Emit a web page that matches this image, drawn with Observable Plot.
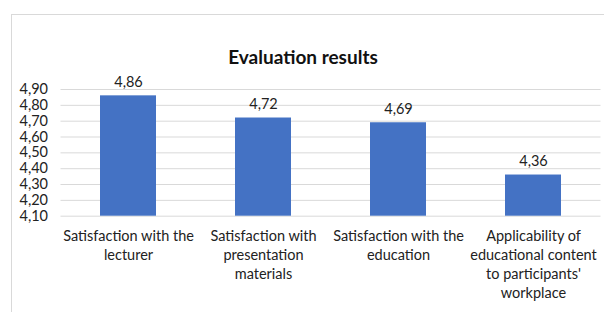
<!DOCTYPE html>
<html>
<head>
<meta charset="utf-8">
<script src="https://cdn.jsdelivr.net/npm/d3@7"></script>
<script src="https://cdn.jsdelivr.net/npm/@observablehq/plot@0.6"></script>
<style>
  html, body { margin: 0; padding: 0; background: #fff; }
  #wrap { position: relative; width: 604px; height: 312px; overflow: hidden; }
  #frame { position: absolute; left: 11px; top: 14px; width: 700px; height: 400px; border: 1px solid #d9d9d9; box-sizing: border-box; }
  #chart { position: absolute; left: 0; top: 0; }
</style>
</head>
<body>
<div id="wrap"><div id="frame"></div><div id="chart"></div></div>
<script>
const title = "Evaluation results";
const categories = [
  "Satisfaction with the lecturer",
  "Satisfaction with presentation materials",
  "Satisfaction with the education",
  "Applicability of educational content to participants' workplace"
];
const tickLabels = [
  "Satisfaction with the\nlecturer",
  "Satisfaction with\npresentation\nmaterials",
  "Satisfaction with the\neducation",
  "Applicability of\neducational content\nto participants'\nworkplace"
];
const values = [4.86, 4.72, 4.69, 4.36];
const yTicks = [4.1, 4.2, 4.3, 4.4, 4.5, 4.6, 4.7, 4.8, 4.9];

const data = categories.map((c, i) => ({category: c, value: values[i]}));
const comma = (v, d) => v.toFixed(d).replace(".", ",");
const font = "Lato, 'Open Sans', sans-serif";
const fs = 14.5;

const chart = Plot.plot({
  width: 604,
  height: 312,
  marginTop: 89,
  marginBottom: 96.3,
  marginLeft: 60.5,
  marginRight: 3.5,
  style: {fontFamily: font, fontSize: fs + "px", color: "#222", background: "transparent"},
  x: {domain: categories, paddingInner: 0.585, paddingOuter: 0.2925, align: 0.5},
  y: {domain: [4.1, 4.9]},
  marks: [
    Plot.gridY(yTicks, {stroke: "#d9d9d9", strokeOpacity: 1}),
    Plot.barY(data, {x: "category", y1: 4.1, y2: "value", fill: "#4472C4"}),
    Plot.text(data, {x: "category", y: "value", text: d => comma(d.value, 2), lineAnchor: "bottom", dy: -9, fontSize: fs, fill: "#222"}),
    Plot.axisY(yTicks, {tickSize: 0, tickPadding: 13, tickFormat: d => comma(d, 2), fontSize: fs, fill: "#222", label: null}),
    Plot.axisX({tickSize: 0, tickPadding: 11, tickFormat: (d) => tickLabels[categories.indexOf(d)], lineHeight: 1.31, fontSize: fs, fill: "#222", label: null}),
    Plot.text([title], {frameAnchor: "top-left", textAnchor: "middle", dx: 302.5 - 60.5, dy: -26, text: d => d, fontWeight: "bold", fontSize: 19, fill: "#111", lineAnchor: "bottom"})
  ]
});
document.getElementById("chart").appendChild(chart);
</script>
</body>
</html>
